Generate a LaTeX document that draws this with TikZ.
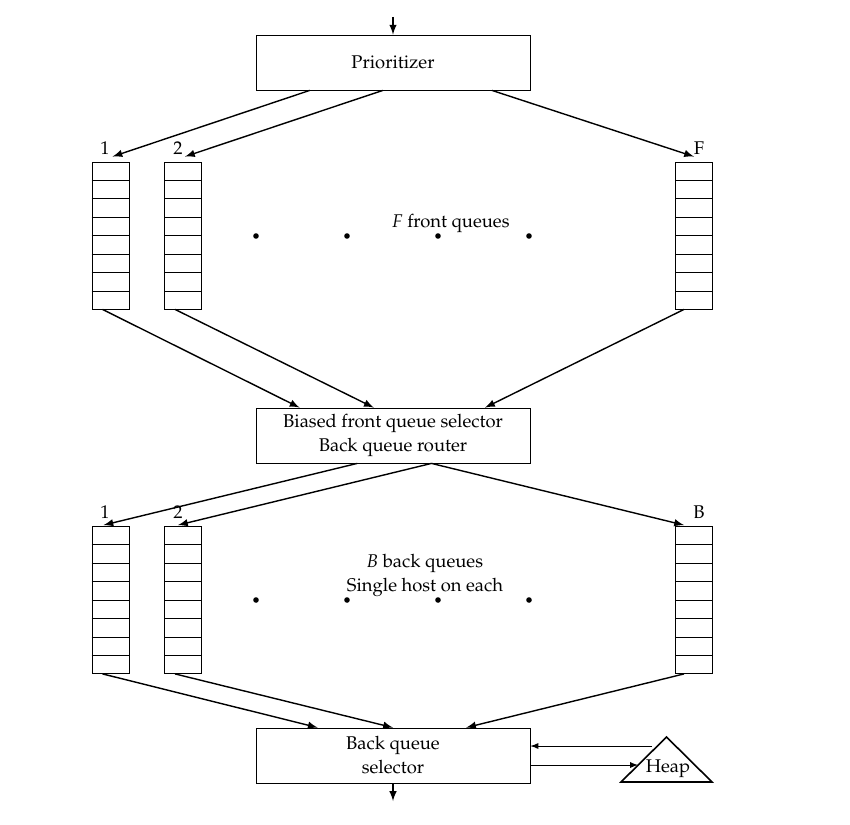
\documentclass[tikz,border=0pt]{standalone}
\usepackage[T1]{fontenc}
\usepackage{mathpazo}
\usetikzlibrary{calc}

\begin{document}
\begin{tikzpicture}[x=0.5pt,y=-0.5pt,
    every node/.style={font=\fontsize{9.2}{12}\selectfont},
    box/.style={draw,minimum width=137pt,minimum height=27.5pt,align=center,inner sep=2pt},
    queue/.style={draw,minimum width=18.5pt,minimum height=73.5pt,inner sep=0pt},
    flow/.style={line width=0.7pt,-latex},
    small/.style={-latex}
  ]
  \useasboundingbox (0,0) rectangle (850,824);

  % boxes
  \node[box] (prio) at (393,62.5) {Prioritizer};
  \node[box] (router) at (393,435.5) {Biased front queue selector\\Back queue router};
  \node[box] (sel) at (393,755.5) {Back queue\\selector};

  % queues
  \node[queue] (fq1) at (110.5,235.5) {};
  \node[queue] (fq2) at (183,235.5) {};
  \node[queue] (fqF) at (694,235.5) {};
  \node[queue] (bq1) at (110.5,600) {};
  \node[queue] (bq2) at (183,600) {};
  \node[queue] (bqB) at (694,600) {};
  \foreach \q in {fq1,fq2,fqF,bq1,bq2,bqB}
    \foreach \i in {1,...,7}
      \draw ($(\q.north west)!\i/8!(\q.south west)$) -- ($(\q.north east)!\i/8!(\q.south east)$);

  \node (lf1) at (105,148) {1};
  \node (lf2) at (178,148) {2};
  \node (lfF) at (699,148) {F};
  \node (lb1) at (105,512) {1};
  \node (lb2) at (178,512) {2};
  \node (lbB) at (699,512) {B};

  \foreach \x in {256,347,438,529} {
    \fill (\x,236) circle (1.4pt);
    \fill (\x,600) circle (1.4pt);
  }
  \node (ftext) at (451,223) {\textit{F} front queues};
  \node[align=center] (btext) at (425,575.5) {\textit{B} back queues\\Single host on each};

  % in and out
  \coordinate (in) at (393,17);
  \coordinate (out) at (393,801);
  \draw[flow] (in) -- (prio);
  \draw[flow] (sel) -- (out);

  % prioritizer to front queues
  \draw[flow] ($(prio.south west)!0.197!(prio.south east)$) -- ($(fq1.north)+(2,-5)$);
  \draw[flow] ($(prio.south west)!0.463!(prio.south east)$) -- ($(fq2.north)+(2,-5)$);
  \draw[flow] ($(prio.south west)!0.86!(prio.south east)$) -- ($(fqF.north)+(0,-5)$);

  % front queues to router
  \draw[flow] ($(fq1.south)+(-8,0)$) -- ($(router.north west)!0.16!(router.north east)$);
  \draw[flow] ($(fq2.south)+(-8,0)$) -- ($(router.north west)!0.43!(router.north east)$);
  \draw[flow] ($(fqF.south)+(-10,0)$) -- ($(router.north west)!0.835!(router.north east)$);

  % router to back queues
  \draw[flow] ($(router.south west)!0.37!(router.south east)$) -- ($(bq1.north)+(-7,-1)$);
  \draw[flow] ($(router.south west)!0.64!(router.south east)$) -- ($(bq2.north)+(-5,-1)$);
  \draw[flow] ($(router.south west)!0.64!(router.south east)$) -- ($(bqB.north)+(-10,-1)$);

  % back queues to selector
  \draw[flow] ($(bq1.south)+(-8,0)$) -- ($(sel.north west)!0.226!(sel.north east)$);
  \draw[flow] ($(bq2.south)+(-8,0)$) -- ($(sel.north west)!0.5!(sel.north east)$);
  \draw[flow] ($(bqB.south)+(-10,0)$) -- ($(sel.north west)!0.766!(sel.north east)$);

  % heap
  \draw[thick] (621,782) -- (666.5,737) -- (712,782) -- cycle;
  \node (heap) at (668,769) {Heap};
  \coordinate (hout) at (652,746);
  \coordinate (hin) at (638,765);
  \draw[small] (hout) -- (sel.east |- hout);
  \draw[small] (sel.east |- hin) -- (hin);
\end{tikzpicture}
\end{document}
